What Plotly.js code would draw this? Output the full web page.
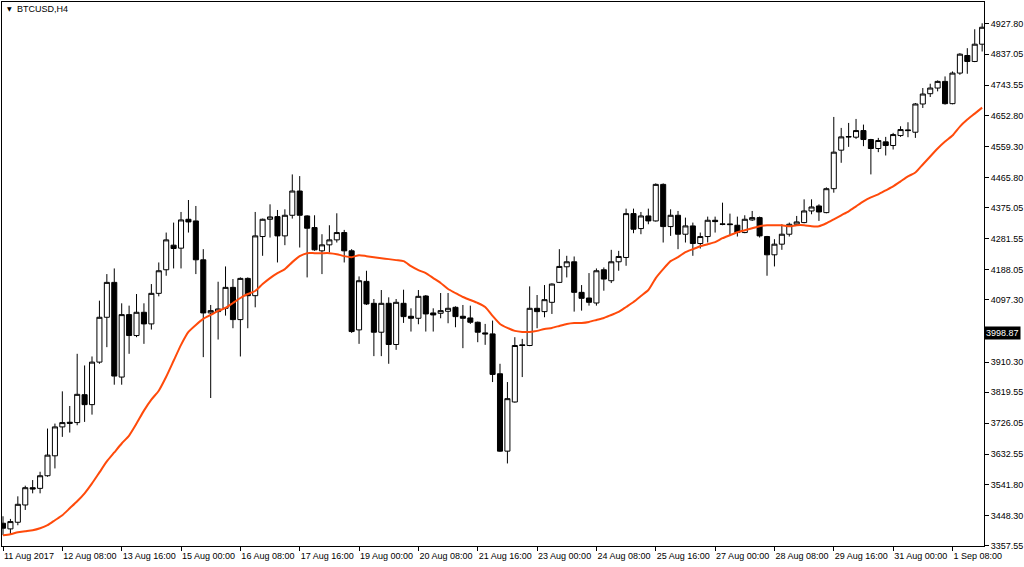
<!DOCTYPE html>
<html>
<head>
<meta charset="utf-8">
<script src="https://cdn.plot.ly/plotly-3.0.1.min.js"></script>
<style>
html, body { margin: 0; padding: 0; background: #fff; }
#chart { width: 1024px; height: 567px; }
</style>
</head>
<body>
<div id="chart"></div>
<script>
// BTCUSD H4 bars, 11 Aug 2017 00:00 .. 2 Sep 2017 00:00
const symbol = 'BTCUSD,H4';
const lastPrice = 3998.87;

const tickLabels = ['11 Aug 2017', '12 Aug 08:00', '13 Aug 16:00', '15 Aug 00:00', '16 Aug 08:00',
	'17 Aug 16:00', '19 Aug 00:00', '20 Aug 08:00', '21 Aug 16:00', '23 Aug 00:00', '24 Aug 08:00',
	'25 Aug 16:00', '27 Aug 00:00', '28 Aug 08:00', '29 Aug 16:00', '31 Aug 00:00', '1 Sep 08:00'];

const priceTicks = [4927.80, 4837.05, 4743.55, 4652.80, 4559.30, 4465.80, 4375.05, 4281.55, 4188.05,
	4097.30, 3910.30, 3819.55, 3726.05, 3632.55, 3541.80, 3448.30, 3357.55];

const openVals = [3425, 3408, 3428, 3480, 3532, 3530, 3568, 3628, 3715, 3729,
	3728, 3812, 3782, 3910, 4045, 4150, 3865, 4053, 3990, 4060,
	4025, 4117, 4188, 4262, 4253, 4340, 4335, 4218, 4058, 4062,
	4072, 4135, 4038, 4162, 4110, 4288, 4340, 4348, 4290, 4352,
	4425, 4350, 4315, 4245, 4263, 4278, 4300, 4245, 4007, 4153,
	4087, 4000, 4087, 3963, 4087, 4048, 4042, 4109, 4058, 4057,
	4063, 4075, 4048, 4043, 4030, 3998, 3995, 3875, 3642, 3790,
	3962, 3960, 4072, 4062, 4090, 4150, 4197, 4212, 4120, 4103,
	4088, 4188, 4155, 4212, 4225, 4357, 4312, 4350, 4335, 4445,
	4318, 4352, 4295, 4320, 4267, 4288, 4337, 4326, 4326, 4322,
	4300, 4338, 4345, 4288, 4233, 4265, 4295, 4325, 4330, 4365,
	4380, 4360, 4432, 4548, 4589, 4587, 4607, 4580, 4553, 4573,
	4562, 4592, 4609, 4602, 4687, 4718, 4735, 4755, 4688, 4780,
	4833, 4815, 4867];

const highVals = [3446, 3438, 3506, 3538, 3555, 3580, 3710, 3725, 3822, 3778,
	3935, 3900, 3927, 4095, 4175, 4192, 4087, 4080, 4115, 4087,
	4145, 4210, 4300, 4330, 4362, 4398, 4380, 4250, 4082, 4152,
	4198, 4160, 4165, 4165, 4362, 4342, 4385, 4368, 4370, 4475,
	4470, 4352, 4352, 4295, 4322, 4358, 4308, 4250, 4168, 4185,
	4100, 4127, 4105, 4100, 4128, 4072, 4127, 4112, 4072, 4118,
	4118, 4078, 4082, 4080, 4032, 4025, 4035, 3905, 3850, 3985,
	3980, 4138, 4112, 4142, 4147, 4250, 4230, 4228, 4142, 4178,
	4192, 4195, 4248, 4245, 4372, 4372, 4362, 4372, 4448, 4448,
	4370, 4365, 4345, 4330, 4300, 4348, 4348, 4390, 4357, 4348,
	4352, 4365, 4348, 4290, 4280, 4325, 4330, 4350, 4400, 4400,
	4385, 4436, 4648, 4615, 4630, 4642, 4625, 4582, 4585, 4588,
	4600, 4620, 4632, 4690, 4735, 4748, 4758, 4770, 4785, 4840,
	4855, 4912, 4930];

const lowVals = [3389, 3392, 3419, 3465, 3515, 3515, 3565, 3590, 3685, 3698,
	3720, 3730, 3752, 3905, 3955, 3842, 3842, 3935, 3985, 3965,
	4008, 4108, 4170, 4192, 4192, 4300, 4175, 3925, 3802, 3978,
	4050, 4012, 3927, 4012, 4075, 4230, 4285, 4210, 4262, 4342,
	4255, 4165, 4245, 4175, 4240, 4270, 4210, 3998, 3965, 4082,
	3928, 3928, 3905, 3947, 4028, 4002, 4024, 4002, 4002, 4042,
	4027, 4015, 3952, 4025, 3970, 3962, 3850, 3640, 3605, 3788,
	3865, 3958, 4012, 4045, 4055, 4148, 4165, 4062, 4065, 4080,
	4080, 4125, 4148, 4185, 4200, 4298, 4295, 4325, 4333, 4270,
	4290, 4250, 4270, 4230, 4252, 4270, 4300, 4322, 4292, 4288,
	4298, 4335, 4285, 4170, 4198, 4248, 4288, 4320, 4328, 4355,
	4335, 4358, 4420, 4510, 4558, 4582, 4560, 4475, 4542, 4532,
	4550, 4588, 4587, 4585, 4675, 4708, 4725, 4685, 4686, 4775,
	4778, 4813, 4845];

const closeVals = [3410, 3430, 3482, 3532, 3528, 3568, 3630, 3715, 3728, 3726,
	3813, 3782, 3910, 4045, 4150, 3868, 4053, 3990, 4060, 4025,
	4117, 4185, 4278, 4252, 4338, 4332, 4218, 4058, 4065, 4070,
	4135, 4038, 4162, 4110, 4290, 4340, 4347, 4290, 4352, 4425,
	4352, 4313, 4248, 4263, 4278, 4300, 4245, 4002, 4155, 4085,
	4000, 4087, 3963, 4090, 4047, 4042, 4108, 4055, 4052, 4065,
	4072, 4047, 4042, 4030, 4000, 3995, 3873, 3642, 3800, 3960,
	3960, 4072, 4062, 4098, 4145, 4198, 4212, 4120, 4102, 4090,
	4185, 4160, 4212, 4228, 4357, 4310, 4350, 4335, 4445, 4318,
	4352, 4295, 4320, 4267, 4288, 4337, 4333, 4325, 4324, 4300,
	4340, 4345, 4290, 4233, 4265, 4295, 4325, 4332, 4365, 4377,
	4362, 4432, 4542, 4588, 4588, 4607, 4580, 4553, 4577, 4562,
	4595, 4610, 4607, 4687, 4717, 4735, 4755, 4688, 4780, 4837,
	4815, 4867, 4918];

// moving average line as drawn on the chart
const maVals = [3389, 3392, 3398, 3401, 3404, 3410, 3419, 3434, 3449, 3470,
	3491, 3515, 3545, 3578, 3611, 3638, 3665, 3689, 3725, 3764,
	3797, 3824, 3866, 3914, 3962, 4001, 4022, 4040, 4052, 4064,
	4073, 4088, 4103, 4115, 4124, 4145, 4163, 4178, 4190, 4211,
	4229, 4238, 4238, 4238, 4238, 4235, 4229, 4226, 4232, 4229,
	4226, 4223, 4220, 4217, 4214, 4199, 4187, 4178, 4163, 4148,
	4130, 4118, 4106, 4097, 4088, 4076, 4049, 4025, 4013, 4004,
	4001, 4001, 4004, 4010, 4013, 4019, 4025, 4028, 4028, 4031,
	4037, 4043, 4052, 4061, 4076, 4091, 4109, 4127, 4163, 4190,
	4214, 4226, 4241, 4250, 4259, 4265, 4271, 4283, 4292, 4301,
	4307, 4313, 4319, 4322, 4322, 4322, 4319, 4322, 4322, 4319,
	4319, 4328, 4340, 4352, 4364, 4379, 4394, 4406, 4415, 4427,
	4439, 4454, 4469, 4481, 4505, 4529, 4553, 4574, 4592, 4619,
	4640, 4658, 4676];

const bars = openVals.map((v, i) => i);
const barsPerLabel = 8;

const candles = {
	type: 'candlestick',
	x: bars,
	open: openVals,
	high: highVals,
	low: lowVals,
	close: closeVals,
	increasing: { line: { color: '#000000', width: 1 }, fillcolor: '#ffffff' },
	decreasing: { line: { color: '#000000', width: 1 }, fillcolor: '#000000' },
	whiskerwidth: 0,
	hoverinfo: 'skip',
	showlegend: false
};

const ma = {
	type: 'scatter',
	mode: 'lines',
	x: bars,
	y: maVals,
	line: { color: '#ff4a0a', width: 2, shape: 'spline', smoothing: 0.6 },
	hoverinfo: 'skip',
	showlegend: false
};

const axisFont = { family: 'Liberation Sans, Arial, sans-serif', size: 9, color: '#000000' };

const layout = {
	width: 1024,
	height: 567,
	margin: { l: 2, r: 40, t: 2, b: 21 },
	paper_bgcolor: '#ffffff',
	plot_bgcolor: '#ffffff',
	boxgap: 0.32,
	boxgroupgap: 0,
	xaxis: {
		range: [-0.135, 132.25],
		rangeslider: { visible: false },
		showgrid: false,
		zeroline: false,
		showline: true,
		mirror: true,
		linecolor: '#000000',
		linewidth: 1,
		ticks: 'outside',
		ticklen: 4,
		tickcolor: '#000000',
		tickvals: tickLabels.map((t, i) => i * barsPerLabel),
		ticktext: tickLabels,
		tickangle: 0,
		ticklabelposition: 'outside right',
		ticklabelstandoff: 1,
		tickfont: axisFont
	},
	yaxis: {
		side: 'right',
		range: [3356.5, 4994],
		showgrid: false,
		zeroline: false,
		showline: true,
		mirror: true,
		linecolor: '#000000',
		linewidth: 1,
		ticks: 'outside',
		ticklen: 4,
		tickcolor: '#000000',
		tickvals: priceTicks,
		ticktext: priceTicks.map(v => v.toFixed(2)),
		tickfont: axisFont
	},
	annotations: [
		{
			xref: 'paper', yref: 'paper', x: 0.003, y: 0.988,
			xanchor: 'left', yanchor: 'middle', showarrow: false,
			text: '▼', font: { family: 'DejaVu Sans', size: 6, color: '#000000' }
		},
		{
			xref: 'paper', yref: 'paper', x: 0.0135, y: 0.988,
			xanchor: 'left', yanchor: 'middle', showarrow: false,
			text: symbol, font: axisFont
		},
		{
			xref: 'paper', yref: 'y', x: 1, y: lastPrice,
			xanchor: 'left', yanchor: 'middle', showarrow: false,
			text: lastPrice.toFixed(2), bgcolor: '#000000', borderpad: 1,
			font: { family: 'Liberation Sans, Arial, sans-serif', size: 9, color: '#ffffff' }
		}
	]
};

Plotly.newPlot('chart', [candles, ma], layout, { staticPlot: true });
</script>
</body>
</html>
